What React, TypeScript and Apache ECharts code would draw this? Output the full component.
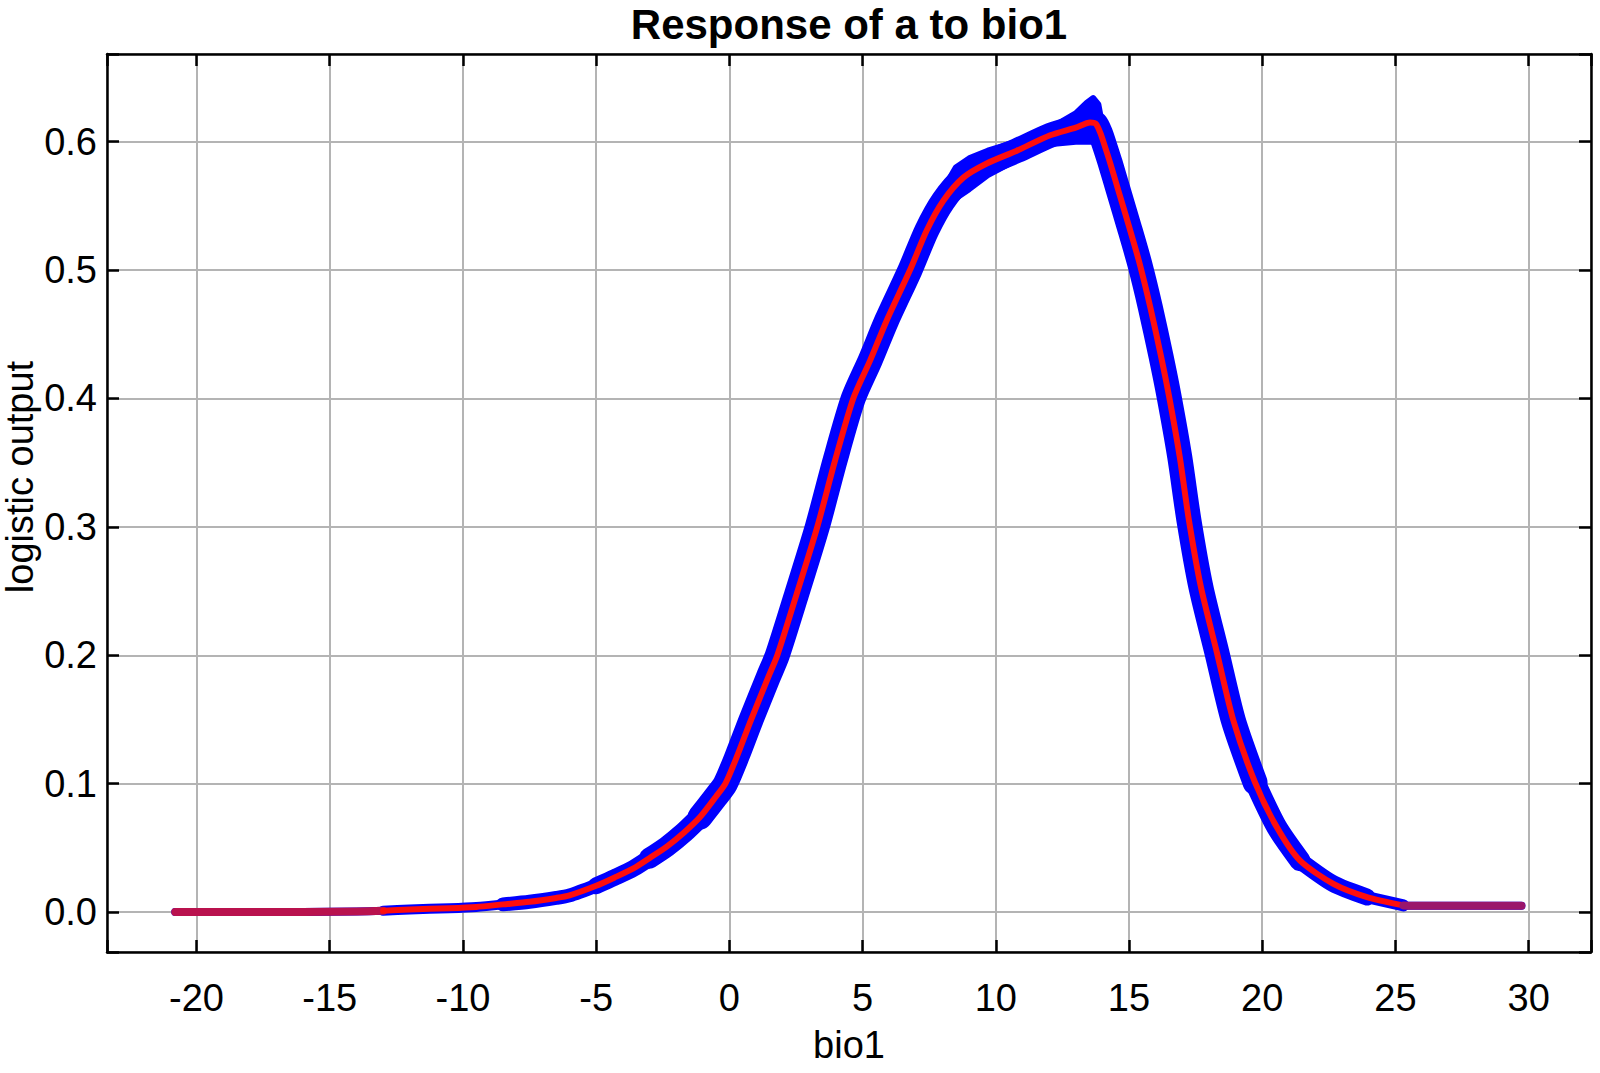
import React, { useEffect, useRef } from "react";
import * as echarts from "echarts";

// ---- data ----
const TITLE = "Response of a to bio1";
const X_NAME = "bio1";
const Y_NAME = "logistic output";

const X_MIN = -23.36;
const X_MAX = 32.34;
const Y_MIN = -0.0311;
const Y_MAX = 0.6683;

// mean response (red line)
const meanX = [
  -20.8, -16, -14, -13, -12, -10.5, -9.5, -8.5, -7.5, -6.5, -6, -5, -4.3, -3.6, -3,
  -2.35, -1.7, -1.1, -0.5, -0.15, 0.3, 0.78, 1.46, 1.8, 2.53, 3.3, 3.97, 4.65, 5.28,
  5.91, 6.78, 7.41, 8.03, 8.78, 9.66, 10.79, 12.04, 13.0, 13.54, 13.75, 13.92, 14.1,
  14.3, 14.6, 15.0, 15.4, 15.8, 16.2, 16.5, 16.9, 17.25, 17.7, 18.3, 18.92, 19.73,
  20.55, 21.42, 22.67, 23.93, 25.3, 25.6, 29.73,
];
const meanY = [
  0, 0, 0.0005, 0.001, 0.002, 0.003, 0.004, 0.006, 0.008, 0.011, 0.013, 0.0205, 0.027,
  0.034, 0.042, 0.051, 0.062, 0.074, 0.09, 0.1, 0.122, 0.148, 0.183, 0.2, 0.248, 0.3,
  0.352, 0.4, 0.4295, 0.461, 0.5, 0.531, 0.554, 0.572, 0.583, 0.593, 0.605, 0.611,
  0.615, 0.614, 0.607, 0.596, 0.583, 0.562, 0.534, 0.505, 0.471, 0.433, 0.402, 0.355,
  0.305, 0.253, 0.202, 0.149, 0.101, 0.066, 0.04, 0.022, 0.0117, 0.0052, 0.005, 0.005,
];

// envelope of the replicate runs near the peak (blue band widening)
const envX = [8.0, 8.5, 9.0, 9.7, 10.8, 12.0, 13.0, 13.4, 13.65, 13.85, 14.0];
const envUpper = [0.562, 0.58, 0.587, 0.593, 0.6, 0.61, 0.622, 0.63, 0.634, 0.629, 0.612];
const envLower = [0.548, 0.556, 0.563, 0.574, 0.586, 0.598, 0.6, 0.6, 0.6, 0.598, 0.592];

// ---- styling ----
const FONT = '"Liberation Sans", Arial, Helvetica, sans-serif';
const BLUE = "#0000ff";
const RED = "#ff0d0d";
// [from x, to x, blue band line width in px]
const blueSegments: [number, number, number][] = [
  [-20.8, -13, 8],
  [-13, -8.5, 10],
  [-8.5, -5, 14],
  [-5, -3, 17],
  [-3, -1.1, 21],
  [-1.1, 19.73, 25],
  [19.73, 21.42, 21],
  [21.42, 23.93, 17],
  [23.93, 25.3, 12],
  [25.3, 29.73, 8],
];
// [from x, to x, colour, width] of the mean line (tails look blended with blue)
const redSegments: [number, number, string, number][] = [
  [-20.8, -13, "#b9124e", 8],
  [-13, 25.3, RED, 6],
  [25.3, 29.73, "#9a166c", 8],
];

const meanPts = meanX.map((x, i) => [x, meanY[i]]);

export default function App() {
  const ref = useRef<HTMLDivElement>(null);

  useEffect(() => {
    if (!ref.current) return;
    const chart = echarts.init(ref.current, undefined, { renderer: "svg" });

    const xLabelFmt = (v: number) => {
      const r = Math.round(v / 5) * 5;
      return Math.abs(v - r) < 1e-6 ? String(r) : "";
    };
    const yLabelFmt = (v: number) => {
      const r = Math.round(v * 10) / 10;
      return Math.abs(v - r) < 1e-6 ? Math.abs(r).toFixed(1) : "";
    };

    const frameLine = { show: true, onZero: false, lineStyle: { color: "#000", width: 2.5 } };
    const tick = { show: true, inside: true, length: 12, lineStyle: { color: "#000", width: 2.5 } };
    const grid = { show: true, lineStyle: { color: "#b4b4b4", width: 2 } };

    const blueSeries = blueSegments.map(([lo, hi, w]) => ({
      type: "line",
      data: meanPts.filter((p) => p[0] >= lo && p[0] <= hi),
      symbol: "none",
      silent: true,
      smooth: 0.25,
      z: 2,
      lineStyle: { color: BLUE, width: w, cap: "round", join: "round" },
    }));

    const envSeries = {
      type: "custom",
      silent: true,
      z: 2,
      data: envX.map((x, i) => [x, envLower[i], envUpper[i]]),
      encode: { x: 0, y: [1, 2] },
      renderItem: (params: any, api: any) => {
        if (params.dataIndex !== 0) return null;
        const up = envX.map((x, i) => api.coord([x, envUpper[i]]));
        const lo = envX.map((x, i) => api.coord([x, envLower[i]])).reverse();
        return {
          type: "polygon",
          shape: { points: up.concat(lo) },
          style: { fill: BLUE, stroke: BLUE, lineWidth: 6, lineJoin: "round" },
        };
      },
    };

    const redSeries = redSegments.map(([lo, hi, c, w]) => ({
      type: "line",
      data: meanPts.filter((p) => p[0] >= lo && p[0] <= hi),
      symbol: "none",
      silent: true,
      smooth: 0.25,
      z: 3,
      lineStyle: { color: c, width: w, cap: "round", join: "round" },
    }));

    chart.setOption({
      animation: false,
      backgroundColor: "#fff",
      title: {
        text: TITLE,
        left: 849,
        top: 3,
        padding: 0,
        textAlign: "center",
        textStyle: { fontSize: 42, fontWeight: "bold", color: "#000", fontFamily: FONT },
      },
      grid: { left: 107, right: 9, top: 54, bottom: 121, containLabel: false },
      xAxis: [
        {
          type: "value",
          position: "bottom",
          min: X_MIN,
          max: X_MAX,
          splitNumber: 10,
          name: X_NAME,
          nameLocation: "middle",
          nameGap: 74,
          nameTextStyle: { fontSize: 38, color: "#000", fontFamily: FONT },
          axisLine: frameLine,
          axisTick: tick,
          splitLine: grid,
          axisLabel: {
            formatter: xLabelFmt,
            fontSize: 38,
            color: "#000",
            fontFamily: FONT,
            margin: 27,
          },
        },
        {
          type: "value",
          position: "top",
          min: X_MIN,
          max: X_MAX,
          splitNumber: 10,
          axisLine: frameLine,
          axisTick: tick,
          splitLine: { show: false },
          axisLabel: { show: false },
        },
      ],
      yAxis: [
        {
          type: "value",
          position: "left",
          min: Y_MIN,
          max: Y_MAX,
          splitNumber: 7,
          axisLine: frameLine,
          axisTick: tick,
          splitLine: grid,
          axisLabel: {
            formatter: yLabelFmt,
            fontSize: 38,
            color: "#000",
            fontFamily: FONT,
            margin: 10,
          },
        },
        {
          type: "value",
          position: "right",
          min: Y_MIN,
          max: Y_MAX,
          splitNumber: 7,
          axisLine: frameLine,
          axisTick: tick,
          splitLine: { show: false },
          axisLabel: { show: false },
        },
      ],
      graphic: [
        {
          type: "text",
          x: 20,
          y: 477,
          rotation: Math.PI / 2,
          style: {
            text: Y_NAME,
            fontSize: 38,
            fontFamily: FONT,
            fill: "#000",
            align: "center",
            verticalAlign: "middle",
          },
        },
      ],
      series: [...blueSeries, envSeries, ...redSeries],
    });

    return () => chart.dispose();
  }, []);

  return (
    <div
      ref={ref}
      style={{
        position: "fixed",
        left: 0,
        top: 0,
        width: 1600,
        height: 1073,
        background: "#fff",
      }}
    />
  );
}
